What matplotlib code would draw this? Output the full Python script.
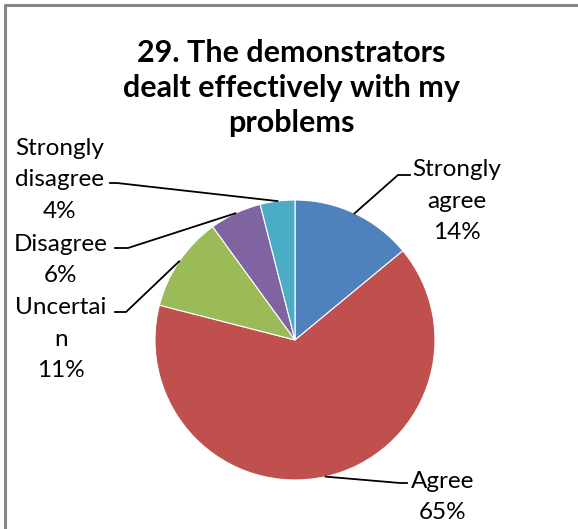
import numpy as np
import matplotlib
matplotlib.use("Agg")
import matplotlib.pyplot as plt
from matplotlib.lines import Line2D
from matplotlib.transforms import IdentityTransform

categories = ["Strongly agree", "Agree", "Uncertain", "Disagree", "Strongly disagree"]
values = [14, 65, 11, 6, 4]
label_texts = ["Strongly\nagree\n14%", "Agree\n65%", "Uncertai\nn\n11%", "Disagree\n6%", "Strongly\ndisagree\n4%"]
colors = ["#4F81BD", "#C0504D", "#9BBB59", "#8064A2", "#4BACC6"]
title = "29. The demonstrators\ndealt effectively with my\nproblems"

W, H = 578, 529
fig = plt.figure(figsize=(W / 100, H / 100), dpi=100)
fig.patch.set_facecolor("white")
FONT = ["Lato", "DejaVu Sans"]

# pie geometry in image pixels (y from top)
cx, cy, r = 295, 340, 140
ax = fig.add_axes([(cx - r) / W, (H - cy - r) / H, 2 * r / W, 2 * r / H])
wedges, _ = ax.pie(values, colors=colors, startangle=90, counterclock=False,
                   radius=1, wedgeprops=dict(linewidth=0.8, edgecolor="white"))
ax.set_xlim(-1, 1)
ax.set_ylim(-1, 1)
ax.axis("off")

# label placements (image pixels): text center, knee point, end of horizontal segment
label_pos = [(457, 201), (443, 497), (61, 339), (61, 260), (60, 180)]
knees = [(398, 175), (400, 483), (126, 312), (128, 248), (117, 183)]
hends = [(410, 175), (407, 483), (115, 312), (115, 248), (110, 183)]

def fig_px(x, y):
    return x, H - y

for i, w in enumerate(wedges):
    mid = np.deg2rad((w.theta1 + w.theta2) / 2)
    edge = (np.cos(mid), np.sin(mid))
    edge_disp = ax.transData.transform(edge)
    kx, ky = fig_px(*knees[i])
    hx, hy = fig_px(*hends[i])
    fig.add_artist(Line2D([edge_disp[0], kx, hx], [edge_disp[1], ky, hy],
                          color="black", lw=1.3, transform=IdentityTransform()))
    lx, ly = label_pos[i]
    fig.text(lx / W, (H - ly) / H, label_texts[i], ha="center", va="center",
             fontsize=17.5, family=FONT, linespacing=1.6, multialignment="center")

fig.text(291 / W, (H - 88) / H, title, ha="center", va="center", fontsize=22,
         fontweight="bold", family=FONT, linespacing=1.32)

# chart border (top and left visible)
fig.add_artist(Line2D([5, 5, W], [0, H - 4.5, H - 4.5], color="#868686", lw=2.2,
                      transform=IdentityTransform()))

fig.savefig("out.png", dpi=100, facecolor="white")
